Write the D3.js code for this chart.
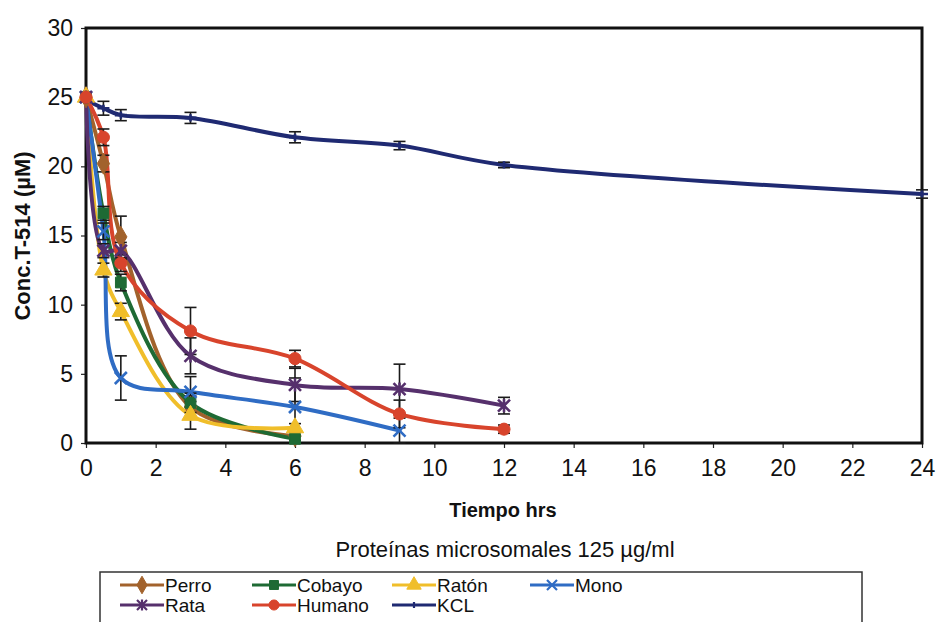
<!DOCTYPE html>
<html>
<head>
<meta charset="utf-8">
<script src="https://cdn.jsdelivr.net/npm/d3@7/dist/d3.min.js"></script>
<style>
  html, body { margin: 0; padding: 0; background: #ffffff; }
  svg { display: block; }
  text { font-family: "Liberation Sans", Arial, Helvetica, sans-serif; fill: #111; }
</style>
</head>
<body>
<svg id="chart" width="938" height="622"></svg>
<script>
// Sampling times (hours)
const timesShort = [0, 0.5, 1, 3, 6];
const timesMid = [0, 0.5, 1, 3, 6, 9];
const timesLong = [0, 0.5, 1, 3, 6, 9, 12];
const timesKCL = [0, 0.5, 1, 3, 6, 9, 12, 24];

// Mean concentration of T-514 (µM) per species
const perro = [25, 20.2, 14.9, 2.6, 0.5];
const cobayo = [25, 16.6, 11.6, 2.9, 0.3];
const raton = [25, 12.5, 9.5, 2.0, 1.1];
const mono = [25, 15.3, 4.7, 3.7, 2.6, 0.9];
const rata = [25, 13.9, 13.9, 6.3, 4.2, 3.9, 2.7];
const humano = [25, 22.1, 13.0, 8.1, 6.1, 2.1, 1.0];
const kcl = [24.8, 24.2, 23.7, 23.5, 22.1, 21.5, 20.1, 18.0];

// Standard deviations
const perroSD = [0.3, 0.6, 1.5, 0.8, 0.3];
const cobayoSD = [0.3, 0.5, 0.6, 0.7, 0.3];
const ratonSD = [0.3, 0.5, 0.6, 1.0, 0.3];
const monoSD = [0.3, 0.6, 1.6, 1.1, 2.1, 0.9];
const rataSD = [0.3, 0.5, 0.6, 1.3, 1.2, 1.8, 0.6];
const humanoSD = [0.3, 0.6, 0.6, 1.7, 0.6, 1.0, 0.3];
const kclSD = [0.3, 0.5, 0.4, 0.4, 0.4, 0.3, 0.2, 0.3];

const xTicks = [0, 2, 4, 6, 8, 10, 12, 14, 16, 18, 20, 22, 24];
const yTicks = [0, 5, 10, 15, 20, 25, 30];

const seriesNames = ["Perro", "Cobayo", "Ratón", "Mono", "Rata", "Humano", "KCL"];
const seriesColors = ["#a2622c", "#1e6a34", "#f0be2a", "#2f6cc4", "#56306c", "#d8442c", "#1f2a72"];
const seriesMarkers = ["diamond", "square", "triangle", "cross", "star", "circle", "plus"];

const series = [
  { name: seriesNames[0], t: timesShort, v: perro, sd: perroSD },
  { name: seriesNames[1], t: timesShort, v: cobayo, sd: cobayoSD },
  { name: seriesNames[2], t: timesShort, v: raton, sd: ratonSD },
  { name: seriesNames[3], t: timesMid, v: mono, sd: monoSD },
  { name: seriesNames[4], t: timesLong, v: rata, sd: rataSD },
  { name: seriesNames[5], t: timesLong, v: humano, sd: humanoSD },
  { name: seriesNames[6], t: timesKCL, v: kcl, sd: kclSD }
].map((s, i) => ({
  ...s,
  color: seriesColors[i],
  marker: seriesMarkers[i],
  points: s.t.map((t, j) => ({ t, v: s.v[j], sd: s.sd[j] }))
}));

const svg = d3.select("#chart");
const plot = { left: 86, right: 922, top: 28, bottom: 443 };

const x = d3.scaleLinear().domain([0, 24]).range([plot.left, plot.right]);
const y = d3.scaleLinear().domain([0, 30]).range([plot.bottom, plot.top]);

// Axes
const xAxis = d3.axisBottom(x).tickValues(xTicks).tickSize(5).tickPadding(12).tickFormat(d3.format("d"));
const yAxis = d3.axisLeft(y).tickValues(yTicks).tickSize(5).tickPadding(8).tickFormat(d3.format("d"));

const gx = svg.append("g").attr("transform", `translate(0,${plot.bottom})`).call(xAxis);
gx.select(".domain").remove();
gx.selectAll(".tick line").attr("stroke", "#222").attr("stroke-width", 1.2);
gx.selectAll(".tick text").attr("font-size", 23).attr("fill", "#111");

const gy = svg.append("g").attr("transform", `translate(${plot.left},0)`).call(yAxis);
gy.select(".domain").remove();
gy.selectAll(".tick line").attr("stroke", "#222").attr("stroke-width", 1.2);
gy.selectAll(".tick text").attr("font-size", 23).attr("fill", "#111");

// Plot frame
svg.append("rect")
  .attr("x", x(0)).attr("y", y(30))
  .attr("width", x(24) - x(0)).attr("height", y(0) - y(30))
  .attr("fill", "none").attr("stroke", "#111").attr("stroke-width", 3);

// Marker shapes
function markerPath(type, size) {
  const s = size;
  switch (type) {
    case "diamond": return d3.symbol(d3.symbolDiamond, s * s * 0.9)();
    case "square": return d3.symbol(d3.symbolSquare, s * s * 0.8)();
    case "triangle": return d3.symbol(d3.symbolTriangle, s * s * 0.9)();
    case "circle": return d3.symbol(d3.symbolCircle, s * s * 0.8)();
    case "cross": { const h = s / 2; return `M${-h},${-h}L${h},${h}M${-h},${h}L${h},${-h}`; }
    case "star": { const h = s / 2; return `M${-h},${-h}L${h},${h}M${-h},${h}L${h},${-h}M0,${-h * 1.1}L0,${h * 1.1}`; }
    case "plus": { const h = s / 2; return `M${-h},0L${h},0M0,${-h * 0.6}L0,${h * 0.6}`; }
  }
}
const strokeMarkers = new Set(["cross", "star", "plus"]);

const line = d3.line()
  .x(d => x(d.t))
  .y(d => y(d.v))
  .curve(d3.curveCatmullRom.alpha(0.5));

const drawOrder = [6, 0, 1, 2, 3, 4, 5];

// Lines
drawOrder.forEach(i => {
  const s = series[i];
  svg.append("path")
    .datum(s.points)
    .attr("d", line)
    .attr("fill", "none")
    .attr("stroke", s.color)
    .attr("stroke-width", 4)
    .attr("stroke-linejoin", "round")
    .attr("stroke-linecap", "round");
});

// Error bars
const cap = 6;
drawOrder.forEach(i => {
  const s = series[i];
  const g = svg.append("g").attr("stroke", "#1a1a1a").attr("stroke-width", 1.6);
  s.points.forEach(p => {
    if (p.t === 0) return;
    const y1 = y(p.v + p.sd), y0 = y(Math.max(0, p.v - p.sd));
    const cx = x(p.t);
    g.append("line").attr("x1", cx).attr("x2", cx).attr("y1", y1).attr("y2", y0);
    g.append("line").attr("x1", cx - cap).attr("x2", cx + cap).attr("y1", y1).attr("y2", y1);
    g.append("line").attr("x1", cx - cap).attr("x2", cx + cap).attr("y1", y0).attr("y2", y0);
  });
});

// Markers
drawOrder.forEach(i => {
  const s = series[i];
  const isStroke = strokeMarkers.has(s.marker);
  svg.append("g").selectAll("path")
    .data(s.points)
    .join("path")
    .attr("transform", d => `translate(${x(d.t)},${y(d.v)})`)
    .attr("d", markerPath(s.marker, 12))
    .attr("fill", isStroke ? "none" : s.color)
    .attr("stroke", s.color)
    .attr("stroke-width", isStroke ? 2.6 : 1);
});

// Axis titles
svg.append("text")
  .attr("transform", `translate(30,236) rotate(-90)`)
  .attr("text-anchor", "middle")
  .attr("font-size", 22).attr("font-weight", "bold")
  .text("Conc.T-514 (µM)");

svg.append("text")
  .attr("x", 503).attr("y", 517)
  .attr("text-anchor", "middle")
  .attr("font-size", 20).attr("font-weight", "bold")
  .text("Tiempo hrs");

svg.append("text")
  .attr("x", 505).attr("y", 557)
  .attr("text-anchor", "middle")
  .attr("font-size", 22)
  .text("Proteínas microsomales 125 µg/ml");

// Legend
const legend = svg.append("g");
legend.append("rect")
  .attr("x", 100).attr("y", 572).attr("width", 762).attr("height", 60)
  .attr("fill", "none").attr("stroke", "#333").attr("stroke-width", 1.5);

const legendCols = [120, 252, 392, 530];
const legendRows = [585, 605];
series.forEach((s, i) => {
  const col = i % 4, row = Math.floor(i / 4);
  const lx = legendCols[col], ly = legendRows[row];
  const g = legend.append("g").attr("transform", `translate(${lx},${ly})`);
  g.append("line").attr("x1", 0).attr("x2", 44).attr("y1", 0).attr("y2", 0)
    .attr("stroke", s.color).attr("stroke-width", 3);
  const isStroke = strokeMarkers.has(s.marker);
  g.append("path").attr("transform", "translate(22,0)")
    .attr("d", markerPath(s.marker, 10))
    .attr("fill", isStroke ? "none" : s.color)
    .attr("stroke", s.color)
    .attr("stroke-width", isStroke ? 2.2 : 1);
  g.append("text").attr("x", 45).attr("y", 7)
    .attr("font-size", 19)
    .text(s.name);
});
</script>
</body>
</html>
